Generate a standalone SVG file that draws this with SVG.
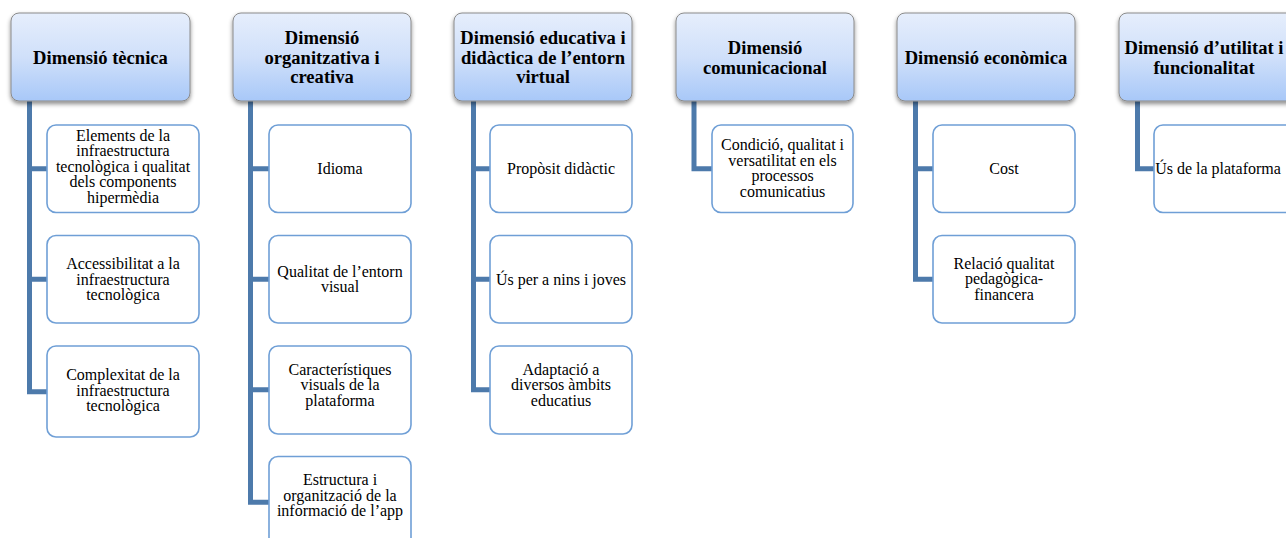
<svg xmlns="http://www.w3.org/2000/svg" width="1286" height="538" viewBox="0 0 1286 538">
<defs>
<linearGradient id="hg" x1="0" y1="0" x2="0" y2="1">
<stop offset="0" stop-color="#e6eefc"/>
<stop offset="0.5" stop-color="#d0e0fa"/>
<stop offset="1" stop-color="#a8c8f8"/>
</linearGradient>
<filter id="sh" x="-10%" y="-10%" width="120%" height="130%">
<feDropShadow dx="0" dy="2.5" stdDeviation="2" flood-color="#000" flood-opacity="0.45"/>
</filter>
</defs>
<style>
.hd{fill:url(#hg);stroke:#8a8a8a;stroke-width:1;filter:url(#sh)}
.ht{font-family:"Liberation Serif","Times New Roman",serif;font-weight:bold;font-size:18.6px;fill:#000;text-anchor:middle}
.cb{fill:#fff;stroke:#6f9fd6;stroke-width:1.6}
.ct{font-family:"Liberation Serif","Times New Roman",serif;font-size:16px;fill:#000;text-anchor:middle}
.cn{fill:none;stroke:#4d7aab;stroke-width:5;stroke-linejoin:miter;stroke-linecap:butt}
</style>
<rect width="1286" height="538" fill="#fff"/>
<g id="connectors">
<path class="cn" d="M29.5,101 V391.75 H47 M29.5,168.75 H47 M29.5,279.25 H47"/>
<path class="cn" d="M250.5,101 V502.25 H269 M250.5,168.75 H269 M250.5,279.25 H269 M250.5,389.75 H269"/>
<path class="cn" d="M473.5,101 V389.75 H490 M473.5,168.75 H490 M473.5,279.25 H490"/>
<path class="cn" d="M694,101 V168.75 H712"/>
<path class="cn" d="M915.5,101 V279.25 H933 M915.5,168.75 H933"/>
<path class="cn" d="M1137.5,101 V168.75 H1154"/>
</g>
<g id="h1"><rect class="hd" x="11" y="13" width="179" height="88" rx="8"/><text class="ht" x="100.5" y="64">Dimensió tècnica</text></g>
<g id="h2"><rect class="hd" x="233" y="13" width="178" height="88" rx="8"/><text class="ht" x="322" y="44">Dimensió</text><text class="ht" x="322" y="63.5">organitzativa i</text><text class="ht" x="322" y="83">creativa</text></g>
<g id="h3"><rect class="hd" x="454" y="13" width="178" height="88" rx="8"/><text class="ht" x="543" y="44">Dimensió educativa i</text><text class="ht" x="543" y="63.5">didàctica de l’entorn</text><text class="ht" x="543" y="83">virtual</text></g>
<g id="h4"><rect class="hd" x="676" y="13" width="178" height="88" rx="8"/><text class="ht" x="765" y="54">Dimensió</text><text class="ht" x="765" y="73.5">comunicacional</text></g>
<g id="h5"><rect class="hd" x="897" y="13" width="178" height="88" rx="8"/><text class="ht" x="986" y="64">Dimensió econòmica</text></g>
<g id="h6"><rect class="hd" x="1119" y="13" width="178" height="88" rx="8"/><text class="ht" x="1204" y="54">Dimensió d’utilitat i</text><text class="ht" x="1204" y="73.5">funcionalitat</text></g>
<g id="c1a"><rect class="cb" x="47" y="125" width="152" height="87.5" rx="9"/><text class="ct" x="123" y="140.5">Elements de la</text><text class="ct" x="123" y="156">infraestructura</text><text class="ct" x="123" y="171.5">tecnològica i qualitat</text><text class="ct" x="123" y="187">dels components</text><text class="ct" x="123" y="202.5">hipermèdia</text></g>
<g id="c1b"><rect class="cb" x="47" y="235.5" width="152" height="87.5" rx="9"/><text class="ct" x="123" y="268.5">Accessibilitat a la</text><text class="ct" x="123" y="284.5">infraestructura</text><text class="ct" x="123" y="300">tecnològica</text></g>
<g id="c1c"><rect class="cb" x="47" y="346" width="152" height="91" rx="9"/><text class="ct" x="123" y="379.5">Complexitat de la</text><text class="ct" x="123" y="395.5">infraestructura</text><text class="ct" x="123" y="411">tecnològica</text></g>
<g id="c2a"><rect class="cb" x="269" y="125" width="142" height="87.5" rx="9"/><text class="ct" x="340" y="174">Idioma</text></g>
<g id="c2b"><rect class="cb" x="269" y="235.5" width="142" height="87.5" rx="9"/><text class="ct" x="340" y="276.5">Qualitat de l’entorn</text><text class="ct" x="340" y="292">visual</text></g>
<g id="c2c"><rect class="cb" x="269" y="346" width="142" height="88" rx="9"/><text class="ct" x="340" y="374.5">Característiques</text><text class="ct" x="340" y="390">visuals de la</text><text class="ct" x="340" y="405.5">plataforma</text></g>
<g id="c2d"><rect class="cb" x="269" y="456.5" width="142" height="92" rx="9"/><text class="ct" x="340" y="485">Estructura i</text><text class="ct" x="340" y="500.5">organització de la</text><text class="ct" x="340" y="516">informació de l’app</text></g>
<g id="c3a"><rect class="cb" x="490" y="125" width="142" height="87.5" rx="9"/><text class="ct" x="561" y="174">Propòsit didàctic</text></g>
<g id="c3b"><rect class="cb" x="490" y="235.5" width="142" height="87.5" rx="9"/><text class="ct" x="561" y="284.5">Ús per a nins i joves</text></g>
<g id="c3c"><rect class="cb" x="490" y="346" width="142" height="88" rx="9"/><text class="ct" x="561" y="374.5">Adaptació a</text><text class="ct" x="561" y="390">diversos àmbits</text><text class="ct" x="561" y="405.5">educatius</text></g>
<g id="c4a"><rect class="cb" x="712" y="125" width="141" height="87.5" rx="9"/><text class="ct" x="782.5" y="150">Condició, qualitat i</text><text class="ct" x="782.5" y="165.5">versatilitat en els</text><text class="ct" x="782.5" y="181">processos</text><text class="ct" x="782.5" y="196.5">comunicatius</text></g>
<g id="c5a"><rect class="cb" x="933" y="125" width="142" height="87.5" rx="9"/><text class="ct" x="1004" y="174">Cost</text></g>
<g id="c5b"><rect class="cb" x="933" y="235.5" width="142" height="87.5" rx="9"/><text class="ct" x="1004" y="268.5">Relació qualitat</text><text class="ct" x="1004" y="284">pedagògica-</text><text class="ct" x="1004" y="299.5">financera</text></g>
<g id="c6a"><rect class="cb" x="1154" y="125" width="142" height="87.5" rx="9"/><text class="ct" x="1218" y="174">Ús de la plataforma</text></g>
</svg>
